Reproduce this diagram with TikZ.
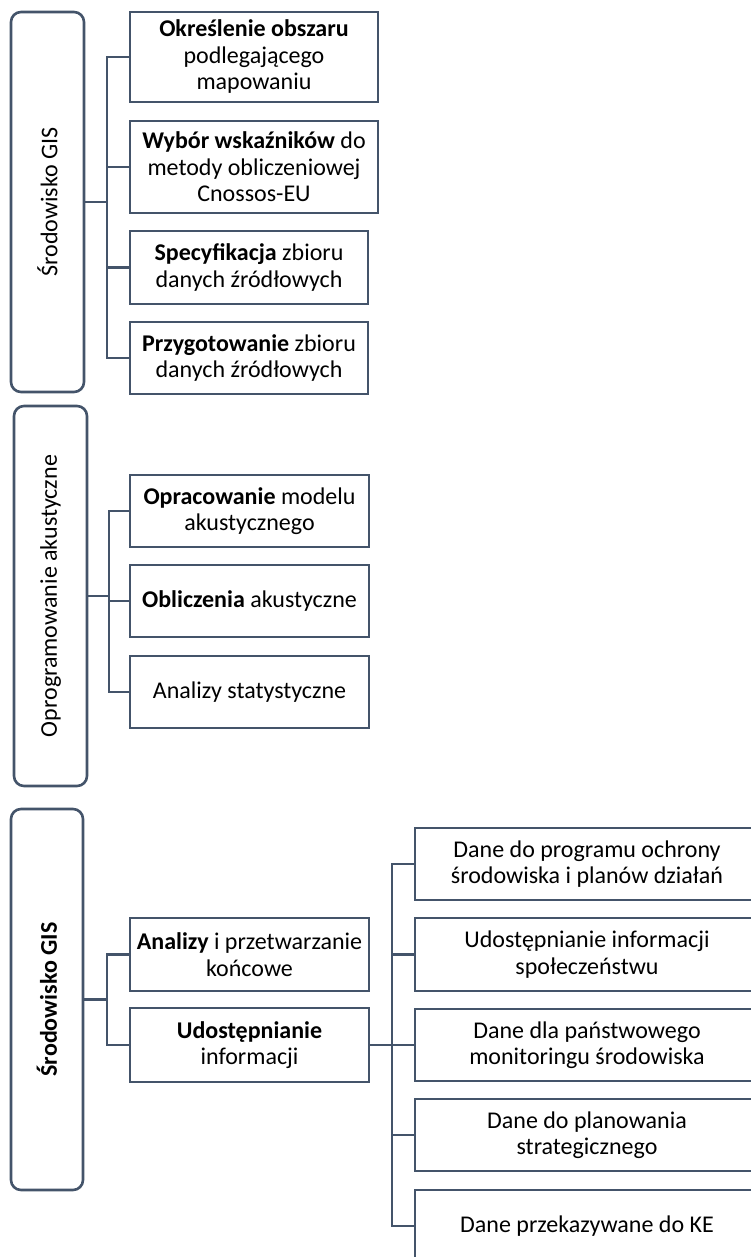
\documentclass[tikz,border=0pt]{standalone}
\usepackage{fontspec}
\setmainfont{Carlito}
\definecolor{lc}{HTML}{44546A}
\begin{document}
\begin{tikzpicture}[x=1pt,y=-1pt,
  every node/.style={font=\fontsize{24}{26.5}\selectfont, align=center, inner sep=0pt},
  boxn/.style={draw=lc, line width=2.6pt, fill=white},
  sidebox/.style={draw=lc, line width=2.6pt, rounded corners=10pt, fill=white},
  conn/.style={draw=lc, line width=2.6pt}]
\useasboundingbox (0,0) rectangle (750,1257);
% group 1
\node[sidebox, minimum width=73pt, minimum height=380pt] (G1) at (47.5,202) {};
\node[rotate=90] (G1t) at (G1.center) {Środowisko GIS};
\node[boxn, minimum width=248pt, minimum height=90pt] (A) at (254,57) {\textbf{Określenie obszaru}\\podlegającego\\mapowaniu};
\node[boxn, minimum width=248pt, minimum height=92pt] (B) at (254,167) {\textbf{Wybór wskaźników} do\\metody obliczeniowej\\Cnossos-EU};
\node[boxn, minimum width=238pt, minimum height=73pt] (C) at (249,267.5) {\textbf{Specyfikacja} zbioru\\danych źródłowych};
\node[boxn, minimum width=238pt, minimum height=72pt] (D) at (249,358) {\textbf{Przygotowanie} zbioru\\danych źródłowych};
\coordinate (b1) at (107,202);
\draw[conn] (G1.east) -- (b1);
\draw[conn] (A.west) -| (b1);
\draw[conn] (B.west) -| (b1);
\draw[conn] (C.west) -| (b1);
\draw[conn] (D.west) -| (b1);
% group 2
\node[sidebox, minimum width=73pt, minimum height=380pt] (G2) at (50.5,596) {};
\node[rotate=90] (G2t) at (G2.center) {Oprogramowanie akustyczne};
\node[boxn, minimum width=239pt, minimum height=72pt] (E) at (249.5,511) {\textbf{Opracowanie} modelu\\akustycznego};
\node[boxn, minimum width=239pt, minimum height=72pt] (F) at (249.5,601) {\textbf{Obliczenia} akustyczne};
\node[boxn, minimum width=239pt, minimum height=72pt] (Gs) at (249.5,692) {Analizy statystyczne};
\coordinate (b2) at (109,596);
\draw[conn] (G2.east) -- (b2);
\draw[conn] (E.west) -| (b2);
\draw[conn] (F.west) -| (b2);
\draw[conn] (Gs.west) -| (b2);
% group 3
\node[sidebox, minimum width=72pt, minimum height=381pt] (G3) at (47,999.5) {};
\node[rotate=90, font=\fontsize{24}{26.5}\selectfont\bfseries] (G3t) at (G3.center) {Środowisko GIS};
\node[boxn, minimum width=239pt, minimum height=73pt] (H) at (249.5,954.5) {\textbf{Analizy} i przetwarzanie\\końcowe};
\node[boxn, minimum width=239pt, minimum height=74pt] (I) at (249.5,1045) {\textbf{Udostępnianie}\\informacji};
\coordinate (b3) at (107,999.5);
\draw[conn] (G3.east) -- (b3);
\draw[conn] (H.west) -| (b3);
\draw[conn] (I.west) -| (b3);
% right column
\node[boxn, minimum width=344pt, minimum height=72pt] (J) at (587,864) {Dane do programu ochrony\\środowiska i planów działań};
\node[boxn, minimum width=344pt, minimum height=73pt] (K) at (587,954.5) {Udostępnianie informacji\\społeczeństwu};
\node[boxn, minimum width=344pt, minimum height=72pt] (L) at (587,1045) {Dane dla państwowego\\monitoringu środowiska};
\node[boxn, minimum width=344pt, minimum height=72pt] (M) at (587,1135) {Dane do planowania\\strategicznego};
\node[boxn, minimum width=344pt, minimum height=72pt] (N) at (587,1226) {Dane przekazywane do KE};
\coordinate (b4) at (392,1045);
\draw[conn] (I.east) -- (b4);
\draw[conn] (J.west) -| (b4);
\draw[conn] (K.west) -| (b4);
\draw[conn] (L.west) -| (b4);
\draw[conn] (M.west) -| (b4);
\draw[conn] (N.west) -| (b4);
\end{tikzpicture}
\end{document}
